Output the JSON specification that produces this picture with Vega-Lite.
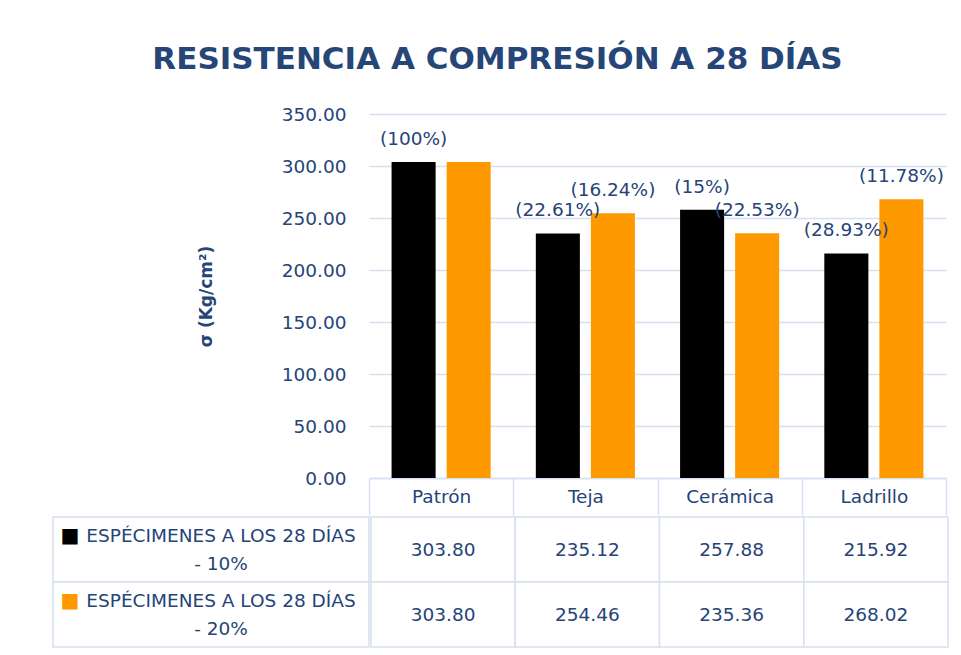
{
  "$schema": "https://vega.github.io/schema/vega-lite/v6.json",
  "autosize": {"type": "pad"},
  "padding": {"left": 52, "top": 44, "right": 5, "bottom": 5},
  "background": "white",
  "title": {"text": "RESISTENCIA A COMPRESIÓN A 28 DÍAS", "font": "DejaVu Sans", "fontSize": 31, "fontWeight": "bold", "color": "#254677", "anchor": "middle", "offset": 29, "dx": -3},
  "datasets": {
    "d": [
      {"cat": "Patrón", "serie": "ESPÉCIMENES A LOS 28 DÍAS - 10%", "value": 303.80, "label": "(100%)"},
      {"cat": "Patrón", "serie": "ESPÉCIMENES A LOS 28 DÍAS - 20%", "value": 303.80, "label": ""},
      {"cat": "Teja", "serie": "ESPÉCIMENES A LOS 28 DÍAS - 10%", "value": 235.12, "label": "(22.61%)"},
      {"cat": "Teja", "serie": "ESPÉCIMENES A LOS 28 DÍAS - 20%", "value": 254.46, "label": "(16.24%)"},
      {"cat": "Cerámica", "serie": "ESPÉCIMENES A LOS 28 DÍAS - 10%", "value": 257.88, "label": "(15%)"},
      {"cat": "Cerámica", "serie": "ESPÉCIMENES A LOS 28 DÍAS - 20%", "value": 235.36, "label": "(22.53%)"},
      {"cat": "Ladrillo", "serie": "ESPÉCIMENES A LOS 28 DÍAS - 10%", "value": 215.92, "label": "(28.93%)"},
      {"cat": "Ladrillo", "serie": "ESPÉCIMENES A LOS 28 DÍAS - 20%", "value": 268.02, "label": "(11.78%)"}
    ],
    "s": [
      {"serie": "ESPÉCIMENES A LOS 28 DÍAS - 10%", "line1": "ESPÉCIMENES A LOS 28 DÍAS", "line2": "- 10%"},
      {"serie": "ESPÉCIMENES A LOS 28 DÍAS - 20%", "line1": "ESPÉCIMENES A LOS 28 DÍAS", "line2": "- 20%"}
    ]
  },
  "data": {"name": "d"},
  "spacing": 0,
  "vconcat": [
    {
      "bounds": "flush",
      "spacing": 0,
      "hconcat": [
        {
          "width": 316,
          "height": 364,
          "data": {"values": []},
          "mark": {"type": "text", "text": ""},
          "encoding": {}
        },
        {
          "width": 577,
          "height": 364,
          "encoding": {
            "x": {"field": "cat", "type": "nominal", "sort": ["Patrón", "Teja", "Cerámica", "Ladrillo"],
                  "scale": {"paddingInner": 0, "paddingOuter": 0},
                  "axis": {"title": null, "labelAngle": 0, "domainColor": "#D6E0F0", "domainWidth": 1.5, "tickBand": "extent", "tickSize": 37, "tickColor": "#D6E0F0", "tickWidth": 1.5, "labelBaseline": "middle", "labelPadding": -18.5, "labelFont": "DejaVu Sans", "labelFontSize": 18.5, "labelColor": "#264478"}},
            "xOffset": {"field": "serie", "type": "nominal", "scale": {"paddingInner": 0.2, "paddingOuter": 0.41}},
            "y": {"field": "value", "type": "quantitative", "scale": {"domain": [0, 350]},
                  "axis": {"title": "σ (Kg/cm²)", "values": [0, 50, 100, 150, 200, 250, 300, 350], "format": ".2f", "domain": false, "ticks": false, "labelPadding": 23, "labelFont": "DejaVu Sans", "labelFontSize": 18.5, "labelColor": "#264478", "gridColor": "#D6E0F0", "gridWidth": 1.5, "titleFont": "DejaVu Sans", "titleFontSize": 17, "titleFontWeight": "bold", "titleColor": "#264478", "titlePadding": 66}}
          },
          "layer": [
            {
              "mark": {"type": "bar"},
              "encoding": {
                "color": {"field": "serie", "type": "nominal", "scale": {"range": ["#000000", "#FF9900"]}, "legend": null}
              }
            },
            {
              "mark": {"type": "text", "dy": -23, "baseline": "middle", "align": "center", "font": "DejaVu Sans", "fontSize": 18.5, "color": "#264478"},
              "encoding": {"text": {"field": "label"}}
            }
          ]
        }
      ]
    },
    {
      "spacing": 0,
      "hconcat": [
        {
          "width": 316,
          "height": 130,
          "data": {"name": "s"},
          "encoding": {
            "y": {"field": "serie", "type": "nominal", "scale": {"paddingInner": 0, "paddingOuter": 0}, "axis": null}
          },
          "layer": [
            {"mark": {"type": "rect", "fill": "white", "stroke": "#D6E0F0", "strokeWidth": 1.5}},
            {
              "mark": {"type": "text", "text": "■", "baseline": "middle", "align": "center", "dx": -141, "dy": -14, "font": "DejaVu Sans", "fontSize": 20},
              "encoding": {"color": {"field": "serie", "type": "nominal", "legend": null}}
            },
            {
              "mark": {"type": "text", "baseline": "middle", "align": "center", "dx": 10, "dy": -14, "font": "DejaVu Sans", "fontSize": 18.5, "color": "#264478"},
              "encoding": {"text": {"field": "line1"}}
            },
            {
              "mark": {"type": "text", "baseline": "middle", "align": "center", "dx": 10, "dy": 14, "font": "DejaVu Sans", "fontSize": 18.5, "color": "#264478"},
              "encoding": {"text": {"field": "line2"}}
            }
          ]
        },
        {
          "width": 577,
          "height": 130,
          "encoding": {
            "x": {"field": "cat", "type": "nominal", "sort": ["Patrón", "Teja", "Cerámica", "Ladrillo"], "scale": {"paddingInner": 0, "paddingOuter": 0}, "axis": null},
            "y": {"field": "serie", "type": "nominal", "scale": {"paddingInner": 0, "paddingOuter": 0}, "axis": null}
          },
          "layer": [
            {"mark": {"type": "rect", "fill": "white", "stroke": "#D6E0F0", "strokeWidth": 1.5}},
            {
              "mark": {"type": "text", "baseline": "middle", "align": "center", "font": "DejaVu Sans", "fontSize": 18.5, "color": "#264478"},
              "encoding": {"text": {"field": "value", "type": "quantitative", "format": ".2f"}}
            }
          ]
        }
      ]
    }
  ],
  "config": {"view": {"stroke": null}}
}
